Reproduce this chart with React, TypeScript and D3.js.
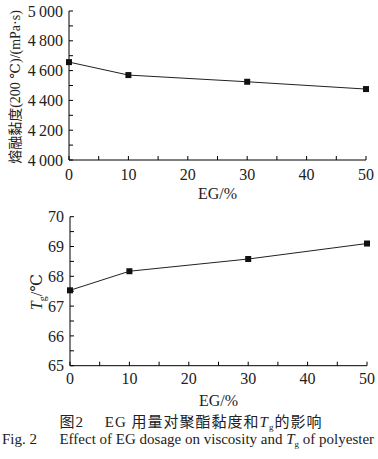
import React from "react";
import * as d3 from "d3";

const egDosage = [0, 10, 30, 50];
const viscosity = [4657, 4570, 4525, 4476];
const tgValues = [67.53, 68.17, 68.58, 69.1];
const xTicks = [0, 10, 20, 30, 40, 50];
const viscTicks = [4000, 4200, 4400, 4600, 4800, 5000];
const tgTicks = [65, 66, 67, 68, 69, 70];

const serif = "'Liberation Serif', 'DejaVu Serif', serif";
const cjk = "'Noto Sans CJK SC', sans-serif";

function fmtThousand(v: number) {
  const s = String(v);
  return s.length > 3 ? s.slice(0, s.length - 3) + "\u2009" + s.slice(-3) : s;
}

type PanelProps = {
  top: number;
  bottom: number;
  left: number;
  right: number;
  yDomain: [number, number];
  yTicks: number[];
  yMinorStep: number;
  values: number[];
  fmt: (v: number) => string;
  xLabelY: number;
  xTickY: number;
  yLabel: React.ReactNode;
};

function Panel(p: PanelProps) {
  const x = d3.scaleLinear().domain([0, 50]).range([p.left, p.right]);
  const y = d3.scaleLinear().domain(p.yDomain).range([p.bottom, p.top]);
  const pts = egDosage.map((d, i) => [x(d), y(p.values[i])] as [number, number]);
  const line = d3.line()(pts) || "";
  const xMinor = d3.range(0, 51, 5);
  const yMinor = d3.range(p.yDomain[0], p.yDomain[1] + 1e-9, p.yMinorStep);
  return (
    <g>
      <line x1={p.left} x2={p.left} y1={p.top} y2={p.bottom} stroke="#000" strokeWidth={1} />
      <line x1={p.left} x2={p.right} y1={p.bottom} y2={p.bottom} stroke="#000" strokeWidth={1} />
      {xMinor.map((t) => (
        <line key={"xm" + t} x1={x(t)} x2={x(t)} y1={p.bottom} y2={p.bottom - 4} stroke="#000" strokeWidth={1} />
      ))}
      {yMinor.map((t) => (
        <line key={"ym" + t} x1={p.left} x2={p.left + 4} y1={y(t)} y2={y(t)} stroke="#000" strokeWidth={1} />
      ))}
      {xTicks.map((t) => (
        <text key={"xt" + t} x={x(t)} y={p.xTickY} textAnchor="middle" fontFamily={serif} fontSize={16} fill="#222">
          {t}
        </text>
      ))}
      {p.yTicks.map((t) => (
        <text key={"yt" + t} x={p.left - 6} y={y(t)} dy="0.35em" textAnchor="end" fontFamily={serif} fontSize={16} fill="#222">
          {p.fmt(t)}
        </text>
      ))}
      <path d={line} fill="none" stroke="#222" strokeWidth={1} />
      {pts.map((pt, i) => (
        <rect key={"m" + i} x={pt[0] - 3} y={pt[1] - 3} width={6} height={6} fill="#111" />
      ))}
      <text x={(p.left + p.right) / 2} y={p.xLabelY} textAnchor="middle" fontFamily={serif} fontSize={16} fill="#222">
        EG/%
      </text>
      {p.yLabel}
    </g>
  );
}

export default function App() {
  return (
    <svg width={378} height={459} style={{ position: "absolute", left: 0, top: 0, background: "#fff" }}>
      <rect width={378} height={459} fill="#fff" />
      <Panel
        top={11}
        bottom={160}
        left={69}
        right={366}
        yDomain={[4000, 5000]}
        yTicks={viscTicks}
        yMinorStep={100}
        values={viscosity}
        fmt={fmtThousand}
        xTickY={180}
        xLabelY={199}
        yLabel={
          <text transform="translate(20,87) rotate(-90)" textAnchor="middle" fontSize={14} fill="#222">
            <tspan fontFamily={cjk}>熔融黏度</tspan>
            <tspan fontFamily={serif}>(200 ℃)/(mPa·s)</tspan>
          </text>
        }
      />
      <Panel
        top={216.7}
        bottom={365.7}
        left={70}
        right={367}
        yDomain={[65, 70]}
        yTicks={tgTicks}
        yMinorStep={0.5}
        values={tgValues}
        fmt={(v) => String(v)}
        xTickY={384}
        xLabelY={406}
        yLabel={
          <text transform="translate(42,292) rotate(-90)" textAnchor="middle" fontFamily={serif} fontSize={16} fill="#222">
            <tspan fontStyle="italic">T</tspan>
            <tspan fontSize={10} dy={4}>g</tspan>
            <tspan dy={-4}>/℃</tspan>
          </text>
        }
      />
      <text x={191} y={427} textAnchor="middle" fontSize={15} letterSpacing={1} fill="#222">
        <tspan fontFamily={cjk}>图</tspan>
        <tspan fontFamily={serif}>{"2\u2003 EG "}</tspan>
        <tspan fontFamily={cjk}>用量对聚酯黏度和</tspan>
        <tspan fontFamily={serif} fontStyle="italic">T</tspan>
        <tspan fontFamily={serif} fontSize={9} dy={3}>g</tspan>
        <tspan fontFamily={cjk} dy={-3}>的影响</tspan>
      </text>
      <text x={188} y={444} textAnchor="middle" fontFamily={serif} fontSize={15} fill="#222">
        <tspan>Fig. 2{"\u2003\u2002"}Effect of EG dosage on viscosity and </tspan>
        <tspan fontStyle="italic">T</tspan>
        <tspan fontSize={9} dy={3}>g</tspan>
        <tspan dy={-3}> of polyester</tspan>
      </text>
    </svg>
  );
}
